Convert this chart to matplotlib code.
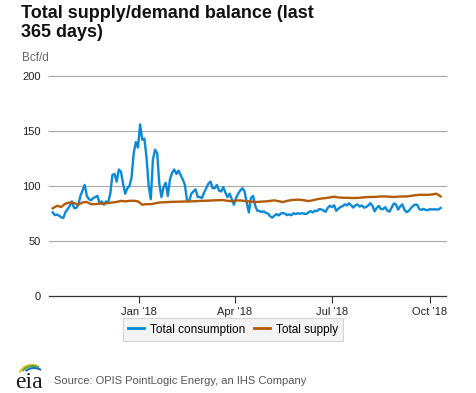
import numpy as np
import pandas as pd
import matplotlib
matplotlib.use("Agg")
import matplotlib.pyplot as plt
from matplotlib.patches import Arc

plt.rcParams['font.family'] = ['Liberation Sans', 'DejaVu Sans']

# daily series sampled every 2 days (consumption) and every 4 days (supply), Bcf/d
start_date = "2017-10-12"
consumption = [
    76, 73.5, 74, 73, 71.5, 71, 76.5, 79, 82, 86, 80, 80, 83, 91, 96, 101, 91, 88, 87, 89,
    90, 91, 84, 86, 83, 86, 85, 93, 110, 111, 104, 115, 113, 102, 93, 98, 100, 108, 130, 140,
    135, 156, 142, 143, 126, 100, 88, 124, 133, 130, 102, 90, 99, 103, 91, 106, 112, 115, 111, 114,
    110, 106, 101, 87, 86, 93, 95, 97, 90, 90, 89, 94, 98, 102, 104, 98, 98, 101, 96, 95,
    99, 94, 90, 93, 88, 83, 89, 93, 96, 98, 95, 85, 76, 89, 91, 82, 77.5, 77.3, 76.3, 77,
    75.5, 75, 72.4, 71.3, 73, 74.5, 73.2, 75, 75.5, 74.8, 73.5, 74.2, 73.4, 75.3, 74.5, 75.2, 74.8, 75.2, 74.8, 74.6,
    76, 77.2, 76, 77.6, 77.2, 79, 78.7, 77.8, 76.5, 80, 82, 80.8, 82.5, 77.5, 79.2, 81, 81.6, 83.4, 82.3, 84.3,
    82.4, 80.4, 82.5, 83.2, 81.3, 82.3, 80.4, 80.8, 82.3, 84.4, 82, 77, 80, 81.9, 79, 79, 80.7, 77.6, 76.6, 80.5,
    84.1, 83.3, 78.5, 81.4, 83.3, 78.4, 76.2, 77.3, 79.8, 81.8, 83.2, 82.9, 79, 78.3, 79.2, 78.2, 78.1, 79, 78.6, 78.9,
    78.6, 78.7, 80,
]
supply = [
    79.7, 82, 81, 84, 85, 84.5, 83, 85, 85.5, 83.5, 83.5, 84, 84, 84.5, 85, 85.5, 86.5, 86, 86.5, 86.6,
    86, 83, 83.5, 83.5, 84.2, 85, 85.2, 85.4, 85.6, 85.7, 85.8, 85.9, 86, 86.1, 86.3, 86.5, 86.6, 86.8, 87, 87.1,
    87.2, 86.5, 86.2, 86.8, 86.9, 86.4, 86, 85.6, 85.5, 85.8, 86, 86.5, 86.9, 86.2, 85.4, 86.5, 87.2, 87.5, 87.5, 87,
    86.3, 87, 88, 88.6, 89, 89.6, 90.3, 89.6, 89.3, 89.3, 89.1, 89.1, 89.3, 89.7, 90, 90, 90.2, 90.5, 90.5, 90.3,
    90, 90.3, 90.5, 90.5, 91, 91.6, 92, 92, 92, 92.3, 93, 90.5,
]
series_names = ["Total consumption", "Total supply"]
tick_dates = ["2018-01-01", "2018-04-01", "2018-07-01", "2018-10-01"]
tick_labels = ["Jan '18", "Apr '18", "Jul '18", "Oct '18"]
y_ticks = [0, 50, 100, 150, 200]

cons_dates = pd.date_range(start_date, periods=len(consumption), freq="2D")
supp_dates = pd.date_range(start_date, periods=len(supply), freq="4D")

W, H = 477, 393
fig = plt.figure(figsize=(W / 100, H / 100), dpi=100)

def fx(x):
    return x / W

def fy(y):
    return 1 - y / H

ax = fig.add_axes([fx(49), fy(296), (446 - 49) / W, (296 - 76) / H])

ax.plot(cons_dates, consumption, color="#0b89d5", lw=1.7, label=series_names[0], zorder=3)
ax.plot(supp_dates, supply, color="#b35a06", lw=1.7, label=series_names[1], zorder=3)

ax.set_xlim(pd.Timestamp("2017-10-08 12:00"), pd.Timestamp("2018-10-16"))
ax.set_ylim(0, 200)
ax.set_yticks(y_ticks)
ax.set_yticklabels([str(v) for v in y_ticks])
ax.set_xticks(pd.to_datetime(tick_dates))
ax.set_xticklabels(tick_labels)

for v in y_ticks[1:]:
    ax.axhline(v, color="#a8a8a8", lw=0.8, zorder=1, clip_on=False)
for s in ["top", "right", "left"]:
    ax.spines[s].set_visible(False)
ax.spines["bottom"].set_color("#333333")
ax.spines["bottom"].set_linewidth(0.9)
ax.tick_params(axis="y", length=0, pad=6, labelsize=8, labelcolor="#222222")
ax.tick_params(axis="x", length=5, width=0.8, color="#333333", pad=3,
               labelsize=8, labelcolor="#222222")

fig.text(fx(21), fy(5), "Total supply/demand balance (last\n365 days)",
         fontsize=13, fontweight="bold", color="#111111", va="top",
         linespacing=1.15)
fig.text(fx(22), fy(58), "Bcf/d", fontsize=8.5, color="#666666", va="center")

leg = ax.legend(loc="center", bbox_to_anchor=(fx(233), fy(329.5)),
                bbox_transform=fig.transFigure, ncol=2, fontsize=8.5,
                frameon=True, fancybox=False, handlelength=1.3,
                handletextpad=0.5, columnspacing=0.8, borderpad=0.45)
leg.get_frame().set_facecolor("#f0f0f0")
leg.get_frame().set_edgecolor("#cccccc")
leg.get_frame().set_linewidth(0.8)
for line in leg.get_lines():
    line.set_linewidth(2)

fig.text(fx(54), fy(381), "Source: OPIS PointLogic Energy, an IHS Company",
         fontsize=8, color="#555555", va="center")

# eia logo
logo = fig.add_axes([fx(12), fy(393), 34 / W, 36 / H])
logo.set_xlim(0, 34)
logo.set_ylim(0, 36)
logo.axis("off")
logo.text(16.5, 5, "eia", family="Liberation Serif", fontsize=17, color="#1a1a1a",
          ha="center", va="baseline")
logo.add_patch(Arc((20, 17), 26, 22, theta1=65, theta2=165, color="#f2c01e", lw=1.5))
logo.add_patch(Arc((21, 17), 24, 20, theta1=55, theta2=155, color="#5aaa3c", lw=1.5))
logo.add_patch(Arc((22, 16), 22, 18, theta1=45, theta2=145, color="#1c75bc", lw=1.5))

fig.savefig("out.png", dpi=100)
